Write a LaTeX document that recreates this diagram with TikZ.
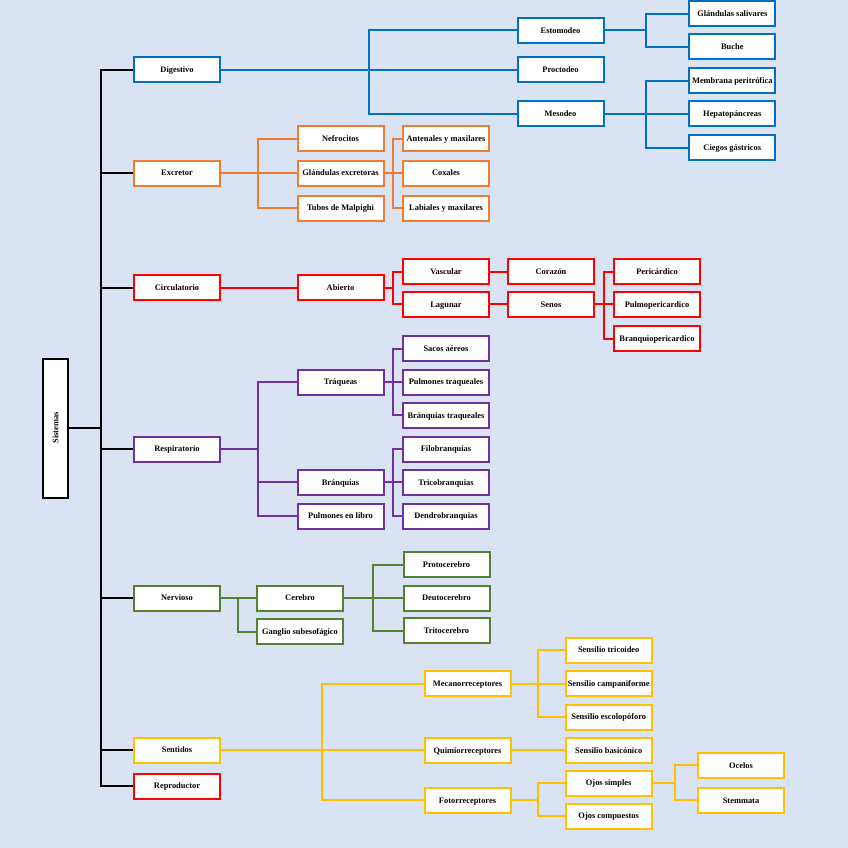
\documentclass[tikz,border=0pt]{standalone}
\usepackage{fontspec}
\setmainfont{Liberation Serif}
\definecolor{bgc}{HTML}{DAE3F3}
\definecolor{cblue}{HTML}{0070C0}
\definecolor{corange}{HTML}{ED7D31}
\definecolor{cred}{HTML}{FF0000}
\definecolor{cpurple}{HTML}{7030A0}
\definecolor{cgreen}{HTML}{548235}
\definecolor{cyellow}{HTML}{FFC000}
\tikzset{
  bx/.style={draw=#1, fill=white, line width=2pt, minimum width=86pt, minimum height=25pt,
    inner sep=0pt, text height=5.6pt, text depth=0pt,
    font=\fontsize{8.4}{10}\selectfont\bfseries, text=black},
  ln/.style={draw=#1, line width=2pt}
}
\begin{document}
\begin{tikzpicture}[x=1pt,y=-1pt]
\fill[bgc] (0,0) rectangle (848,848);
\useasboundingbox (0,0) rectangle (848,848);
% root
\node[bx=black, rotate=90, minimum width=139pt] (sis) at (55.5,428) {Sistemas};
% level 1
\node[bx=cblue] (dig) at (177,70) {Digestivo};
\node[bx=corange] (exc) at (177,173) {Excretor};
\node[bx=cred] (cir) at (177,287.5) {Circulatorio};
\node[bx=cpurple] (res) at (177,449) {Respiratorio};
\node[bx=cgreen] (ner) at (177,598) {Nervioso};
\node[bx=cyellow] (sen) at (177,750) {Sentidos};
\node[bx=cred] (rep) at (177,786) {Reproductor};
\coordinate (jt) at (101,428);
\draw[ln=black] (sis.south) -- (jt);
\foreach \n in {dig,exc,cir,res,ner,sen,rep} \draw[ln=black] (jt) |- (\n.west);
% Digestivo
\node[bx=cblue] (est) at (560.5,30.5) {Estomodeo};
\node[bx=cblue] (pro) at (560.5,70) {Proctodeo};
\node[bx=cblue] (mes) at (560.5,114) {Mesodeo};
\coordinate (jdig) at (369,70);
\draw[ln=cblue] (dig.east) -- (jdig);
\foreach \n in {est,pro,mes} \draw[ln=cblue] (jdig) |- (\n.west);
\node[bx=cblue] (gsa) at (732.3,13.7) {Glándulas salivares};
\node[bx=cblue] (buc) at (732.3,47) {Buche};
\coordinate (jest) at (646,30.5);
\draw[ln=cblue] (est.east) -- (jest);
\foreach \n in {gsa,buc} \draw[ln=cblue] (jest) |- (\n.west);
\node[bx=cblue] (mpe) at (732.3,81) {Membrana peritrófica};
\node[bx=cblue] (hep) at (732.3,114) {Hepatopáncreas};
\node[bx=cblue] (cga) at (732.3,147.5) {Ciegos gástricos};
\coordinate (jmes) at (646,114);
\draw[ln=cblue] (mes.east) -- (jmes);
\foreach \n in {mpe,hep,cga} \draw[ln=cblue] (jmes) |- (\n.west);
% Excretor
\node[bx=corange] (nef) at (340.5,138.7) {Nefrocitos};
\node[bx=corange] (gex) at (340.5,173) {Glándulas excretoras};
\node[bx=corange] (tub) at (340.5,208) {Tubos de Malpighi};
\coordinate (jexc) at (258,173);
\draw[ln=corange] (exc.east) -- (jexc);
\foreach \n in {nef,gex,tub} \draw[ln=corange] (jexc) |- (\n.west);
\node[bx=corange] (ant) at (446,138.7) {Antenales y maxilares};
\node[bx=corange] (cox) at (446,173) {Coxales};
\node[bx=corange] (lab) at (446,208) {Labiales y maxilares};
\coordinate (jgex) at (393.3,173);
\draw[ln=corange] (gex.east) -- (jgex);
\foreach \n in {ant,cox,lab} \draw[ln=corange] (jgex) |- (\n.west);
% Circulatorio
\node[bx=cred] (abi) at (340.5,287.5) {Abierto};
\draw[ln=cred] (cir.east) -- (abi.west);
\node[bx=cred] (vas) at (446,271.7) {Vascular};
\node[bx=cred] (lag) at (446,304.3) {Lagunar};
\coordinate (jabi) at (393.3,287.5);
\draw[ln=cred] (abi.east) -- (jabi);
\foreach \n in {vas,lag} \draw[ln=cred] (jabi) |- (\n.west);
\node[bx=cred] (cor) at (551,271.7) {Corazón};
\node[bx=cred] (sns) at (551,304.3) {Senos};
\draw[ln=cred] (vas.east) -- (cor.west);
\draw[ln=cred] (lag.east) -- (sns.west);
\node[bx=cred] (per) at (657,271.7) {Pericárdico};
\node[bx=cred] (pul) at (657,304.3) {Pulmopericardico};
\node[bx=cred] (bra) at (657,338.7) {Branquiopericardico};
\coordinate (jsns) at (604,304.3);
\draw[ln=cred] (sns.east) -- (jsns);
\foreach \n in {per,pul,bra} \draw[ln=cred] (jsns) |- (\n.west);
% Respiratorio
\node[bx=cpurple] (tra) at (340.5,382) {Tráqueas};
\node[bx=cpurple] (brq) at (340.5,482.3) {Bránquias};
\node[bx=cpurple] (pel) at (340.5,516) {Pulmones en libro};
\coordinate (jres) at (258,449);
\draw[ln=cpurple] (res.east) -- (jres);
\foreach \n in {tra,brq,pel} \draw[ln=cpurple] (jres) |- (\n.west);
\node[bx=cpurple] (sac) at (446,348.7) {Sacos aéreos};
\node[bx=cpurple] (ptr) at (446,382) {Pulmones traqueales};
\node[bx=cpurple] (btr) at (446,415.3) {Bránquias traqueales};
\coordinate (jtra) at (393.3,382);
\draw[ln=cpurple] (tra.east) -- (jtra);
\foreach \n in {sac,ptr,btr} \draw[ln=cpurple] (jtra) |- (\n.west);
\node[bx=cpurple] (fil) at (446,449) {Filobranquias};
\node[bx=cpurple] (tri) at (446,482.3) {Tricobranquias};
\node[bx=cpurple] (den) at (446,516) {Dendrobranquias};
\coordinate (jbrq) at (393.3,482.3);
\draw[ln=cpurple] (brq.east) -- (jbrq);
\foreach \n in {fil,tri,den} \draw[ln=cpurple] (jbrq) |- (\n.west);
% Nervioso
\node[bx=cgreen] (cer) at (300,598) {Cerebro};
\node[bx=cgreen] (gan) at (300,631.5) {Ganglio subesofágico};
\coordinate (jner) at (238.3,598);
\draw[ln=cgreen] (ner.east) -- (jner);
\foreach \n in {cer,gan} \draw[ln=cgreen] (jner) |- (\n.west);
\node[bx=cgreen] (prc) at (446.5,564.7) {Protocerebro};
\node[bx=cgreen] (deu) at (446.5,598) {Deutocerebro};
\node[bx=cgreen] (trc) at (446.5,630.5) {Tritocerebro};
\coordinate (jcer) at (373.3,598);
\draw[ln=cgreen] (cer.east) -- (jcer);
\foreach \n in {prc,deu,trc} \draw[ln=cgreen] (jcer) |- (\n.west);
% Sentidos
\node[bx=cyellow] (mec) at (467.5,683.5) {Mecanorreceptores};
\node[bx=cyellow] (qui) at (467.5,750.3) {Quimiorreceptores};
\node[bx=cyellow] (fot) at (467.5,800.3) {Fotorreceptores};
\coordinate (jsen) at (322,750);
\draw[ln=cyellow] (sen.east) -- (jsen);
\foreach \n in {mec,qui,fot} \draw[ln=cyellow] (jsen) |- (\n.west);
\node[bx=cyellow] (stri) at (608.7,650) {Sensilio tricoideo};
\node[bx=cyellow] (scam) at (608.7,683.5) {Sensilio campaniforme};
\node[bx=cyellow] (sesc) at (608.7,717) {Sensilio escolopóforo};
\coordinate (jmec) at (538,683.5);
\draw[ln=cyellow] (mec.east) -- (jmec);
\foreach \n in {stri,scam,sesc} \draw[ln=cyellow] (jmec) |- (\n.west);
\node[bx=cyellow] (sbas) at (608.7,750.3) {Sensilio basicónico};
\draw[ln=cyellow] (qui.east) -- (sbas.west);
\node[bx=cyellow] (osi) at (608.7,783) {Ojos simples};
\node[bx=cyellow] (oco) at (608.7,816) {Ojos compuestos};
\coordinate (jfot) at (538,800.3);
\draw[ln=cyellow] (fot.east) -- (jfot);
\foreach \n in {osi,oco} \draw[ln=cyellow] (jfot) |- (\n.west);
\node[bx=cyellow] (oce) at (741,765.3) {Ocelos};
\node[bx=cyellow] (ste) at (741,800.3) {Stemmata};
\coordinate (josi) at (674.7,783);
\draw[ln=cyellow] (osi.east) -- (josi);
\foreach \n in {oce,ste} \draw[ln=cyellow] (josi) |- (\n.west);
\end{tikzpicture}
\end{document}
